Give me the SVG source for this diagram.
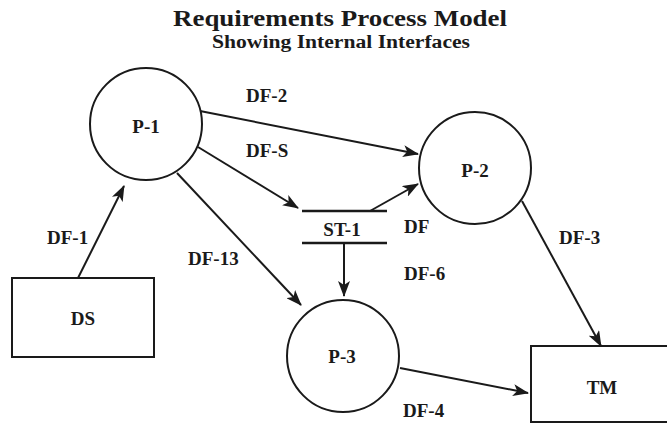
<svg xmlns="http://www.w3.org/2000/svg" width="667" height="424" viewBox="0 0 667 424">
<style>
text{font-family:"Liberation Serif","Times New Roman",serif;font-weight:bold;fill:#1a1a1a}
.lbl{font-size:19px}
.node{fill:#fff;stroke:#1a1a1a;stroke-width:2}
.conn{stroke:#1a1a1a;stroke-width:2;fill:none;marker-end:url(#ah)}
.store{stroke:#1a1a1a;stroke-width:2.5}
</style>
<defs>
<marker id="ah" viewBox="0 0 16 12" refX="15" refY="6" markerWidth="16" markerHeight="12" markerUnits="userSpaceOnUse" orient="auto">
<path d="M0,0 L16,6 L0,12 L4,6 z" fill="#1a1a1a"/>
</marker>
</defs>
<rect width="667" height="424" fill="#fff"/>
<g id="title">
<text x="340" y="26" text-anchor="middle" font-size="24" textLength="334" lengthAdjust="spacingAndGlyphs">Requirements Process Model</text>
<text x="341" y="48" text-anchor="middle" font-size="18" textLength="258" lengthAdjust="spacingAndGlyphs">Showing Internal Interfaces</text>
</g>
<g id="connectors">
<path class="conn" d="M78,278 L124,186"/>
<path class="conn" d="M200,111 L418,154"/>
<path class="conn" d="M198,147 L298,208"/>
<path class="conn" d="M370,211 L418,184"/>
<path class="conn" d="M344,243 L344,296"/>
<path class="conn" d="M177,173 L301,305"/>
<path class="conn" d="M522,201 L601,346"/>
<path class="conn" d="M400,368 L528,393"/>
<text class="lbl" x="246" y="102">DF-2</text>
<text class="lbl" x="246" y="157">DF-S</text>
<text class="lbl" x="47" y="244">DF-1</text>
<text class="lbl" x="188" y="265">DF-13</text>
<text class="lbl" x="404" y="233">DF</text>
<text class="lbl" x="404" y="280">DF-6</text>
<text class="lbl" x="559" y="244">DF-3</text>
<text class="lbl" x="403" y="417">DF-4</text>
</g>
<g id="P-1">
<circle class="node" cx="146" cy="124" r="56"/>
<text class="lbl" x="146" y="133" text-anchor="middle">P-1</text>
</g>
<g id="P-2">
<circle class="node" cx="475" cy="168" r="56"/>
<text class="lbl" x="475" y="177" text-anchor="middle">P-2</text>
</g>
<g id="P-3">
<circle class="node" cx="343" cy="356" r="56"/>
<text class="lbl" x="342" y="363" text-anchor="middle">P-3</text>
</g>
<g id="ST-1">
<line class="store" x1="302" y1="211" x2="387" y2="211"/>
<line class="store" x1="302" y1="243" x2="387" y2="243"/>
<text class="lbl" x="342" y="236" text-anchor="middle">ST-1</text>
</g>
<g id="DS">
<rect class="node" x="12" y="278" width="142" height="79"/>
<text class="lbl" x="83" y="325" text-anchor="middle">DS</text>
</g>
<g id="TM">
<rect class="node" x="531" y="346" width="150" height="76"/>
<text class="lbl" x="602" y="394" text-anchor="middle">TM</text>
</g>
</svg>
